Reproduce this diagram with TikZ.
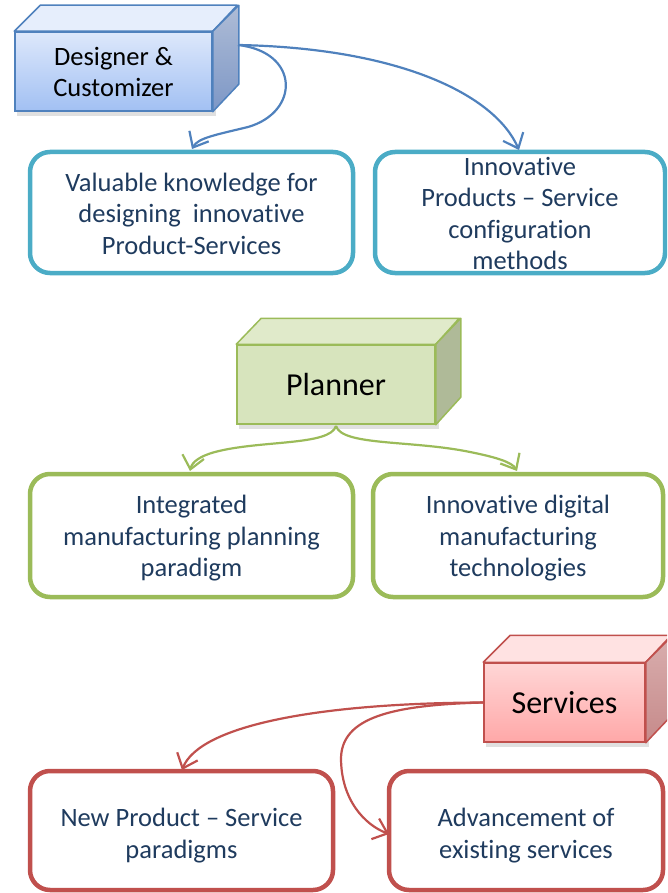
\documentclass[tikz,border=0pt]{standalone}
\usepackage{fontspec}
\setmainfont{Carlito}[RawFeature=-liga]
\usetikzlibrary{arrows.meta}
\definecolor{txt}{HTML}{1F3B5E}
\definecolor{cBlue}{HTML}{4F81BD}
\definecolor{cTeal}{HTML}{4BACC6}
\definecolor{cGrn}{HTML}{9BBB59}
\definecolor{cRed}{HTML}{C0504D}
\definecolor{dFt}{HTML}{DDE8FB}
\definecolor{dFb}{HTML}{A2C0F3}
\definecolor{dTop}{HTML}{E6EEFC}
\definecolor{dRt}{HTML}{AEBCD6}
\definecolor{dRb}{HTML}{7D97C6}
\definecolor{pF}{HTML}{D7E4BD}
\definecolor{pTop}{HTML}{E0EACA}
\definecolor{pR}{HTML}{AFBA98}
\definecolor{sFt}{HTML}{FFD6D6}
\definecolor{sFb}{HTML}{FFA8A8}
\definecolor{sTop}{HTML}{FFE2E2}
\definecolor{sRt}{HTML}{D9AEAE}
\definecolor{sRb}{HTML}{C68A8A}
\tikzset{
  box/.style={draw=#1, line width=4.5pt, rounded corners=20pt, inner sep=0pt},
  boxtext/.style={align=center, text=txt, font=\fontsize{26.5}{31.5}\selectfont, inner sep=0pt},
  cubefront/.style={draw=#1, line width=1.5pt, align=center, text=black, inner sep=0pt},
  cubeshadow/.style={fill=black, opacity=0.12},
  conn/.style={draw=#1, line width=2.2pt, -{Straight Barb[length=13pt,width=22pt,line width=2.2pt]}},
}
\begin{document}
\begin{tikzpicture}[x=1pt,y=-1pt]
\useasboundingbox (0,0) rectangle (667,893);
\clip (0,0) rectangle (667,893);

% ---------- shadows ----------
\fill[cubeshadow] (17,36) rectangle (216,116);
\fill[cubeshadow] (239,349) rectangle (439,429);
\fill[cubeshadow] (486,667) rectangle (649,747);

% ---------- Designer cube ----------
\node[cubefront=cBlue, top color=dFt, bottom color=dFb,
  minimum width=197pt, minimum height=79pt, font=\fontsize{26.5}{31}\selectfont]
  (des) at (113.5,71.5) {Designer \&\\Customizer};
\draw[cBlue, line width=1.5pt, fill=dTop, line join=round]
  (des.north west) -- ++(26,-26) -- ++(197,0) -- (des.north east) -- cycle;
\shade[top color=dRt, bottom color=dRb]
  (des.north east) -- ++(26,-26) -- ++(0,79) -- (des.south east) -- cycle;
\draw[cBlue, line width=1.5pt, line join=round]
  (des.north east) -- ++(26,-26) -- ++(0,79) -- (des.south east) -- cycle;

% ---------- Planner cube ----------
\node[cubefront=cGrn, fill=pF, minimum width=198pt, minimum height=79pt,
  font=\fontsize{32}{34}\selectfont] (pla) at (336,384.5) {Planner};
\draw[cGrn, line width=1.5pt, fill=pTop, line join=round]
  (pla.north west) -- ++(25,-26) -- ++(198,0) -- (pla.north east) -- cycle;
\draw[cGrn, line width=1.5pt, fill=pR, line join=round]
  (pla.north east) -- ++(25,-26) -- ++(0,79) -- (pla.south east) -- cycle;

% ---------- Services cube ----------
\node[cubefront=cRed, top color=sFt, bottom color=sFb,
  minimum width=161pt, minimum height=79pt, font=\fontsize{32}{34}\selectfont]
  (ser) at (564.5,702.5) {Services};
\draw[cRed, line width=1.5pt, fill=sTop, line join=round]
  (ser.north west) -- ++(27,-27) -- ++(161,0) -- (ser.north east) -- cycle;
\shade[top color=sRt, bottom color=sRb]
  (ser.north east) -- ++(27,-27) -- ++(0,79) -- (ser.south east) -- cycle;
\draw[cRed, line width=1.5pt, line join=round]
  (ser.north east) -- ++(27,-27) -- ++(0,79) -- (ser.south east) -- cycle;

% ---------- Boxes ----------
\node[box=cTeal, minimum width=323pt, minimum height=121pt] (b1) at (191.5,212.5) {};
\node[boxtext] (b1t) at ([yshift=-1pt]b1.center)
  {Valuable knowledge for\\designing\ \ innovative\\Product-Services};
\node[box=cTeal, minimum width=290pt, minimum height=121pt] (b2) at (520,212.5) {};
\node[boxtext] (b2t) at ([yshift=-1pt]b2.center)
  {Innovative\\Products – Service\\configuration\\methods};
\node[box=cGrn, minimum width=323pt, minimum height=123pt] (b3) at (191.5,535.5) {};
\node[boxtext] (b3t) at ([yshift=-3pt]b3.center)
  {Integrated\\manufacturing planning\\paradigm};
\node[box=cGrn, minimum width=290pt, minimum height=123pt] (b4) at (518,535.5) {};
\node[boxtext] (b4t) at ([yshift=-3pt]b4.center)
  {Innovative digital\\manufacturing\\technologies};
\node[box=cRed, minimum width=303pt, minimum height=119pt] (b5) at (181.5,830.5) {};
\node[boxtext] (b5t) at ([yshift=-5pt]b5.center)
  {New Product – Service\\paradigms};
\node[box=cRed, minimum width=274pt, minimum height=119pt] (b6) at (526,830.5) {};
\node[boxtext] (b6t) at ([yshift=-5pt]b6.center)
  {Advancement of\\existing services};

% ---------- Connectors ----------
\coordinate (d0) at (238,45);
\coordinate (t1) at (192,149);
\coordinate (t2) at (519,150);
\draw[conn=cBlue] (d0) .. controls (300,52) and (300,112) .. (248,127)
  .. controls (215,135) and (198,138) .. (t1);
\draw[conn=cBlue] (d0) .. controls (400,48) and (495,95) .. (t2);

\coordinate (p0) at (336,426);
\coordinate (t3) at (190,471);
\coordinate (t4) at (517,471);
\draw[conn=cGrn] (p0) .. controls (330,446) and (260,440) .. (215,452)
  .. controls (200,456) and (192,462) .. (t3);
\draw[conn=cGrn] (p0) .. controls (342,446) and (412,440) .. (470,452)
  .. controls (495,457) and (512,462) .. (t4);

\coordinate (s0) at (ser.west);
\coordinate (t5) at (182,770);
\coordinate (t6) at (389,834);
\draw[conn=cRed] (s0) .. controls (320,703) and (200,725) .. (t5);
\draw[conn=cRed] (s0) .. controls (390,705) and (342,718) .. (341,758)
  .. controls (341,800) and (365,825) .. (t6);
\end{tikzpicture}
\end{document}
